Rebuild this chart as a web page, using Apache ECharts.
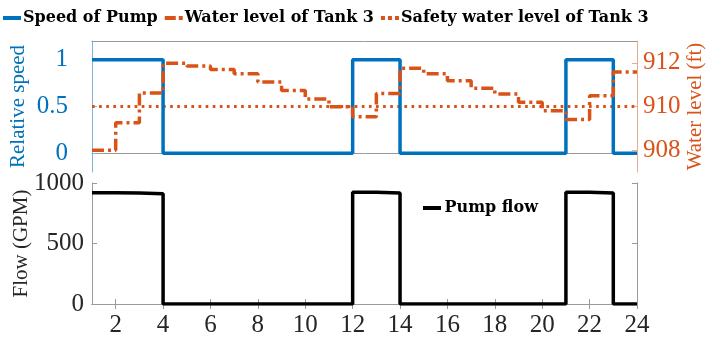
<!DOCTYPE html>
<html>
<head>
<meta charset="utf-8">
<script src="https://cdn.jsdelivr.net/npm/echarts@6/dist/echarts.min.js"></script>
<style>
  html, body { margin: 0; padding: 0; background: #fff; }
  #chart { width: 706px; height: 353px; }
</style>
</head>
<body>
<div id="chart"></div>
<script>
// hourly data, one value per hour interval [h, h+1]
var hours = [1,2,3,4,5,6,7,8,9,10,11,12,13,14,15,16,17,18,19,20,21,22,23];
var endHour = 24;
var pumpSpeed = [1,1,1,0,0,0,0,0,0,0,0,1,1,0,0,0,0,0,0,0,1,1,0];
var tankLevel = [908.0,909.26,910.62,911.98,911.85,911.69,911.5,911.12,910.73,910.34,909.99,909.53,
                 910.6,911.75,911.5,911.18,910.84,910.57,910.2,909.81,909.41,910.49,911.58];
var safetyLevel = 910;
var pumpFlow = [920,918,912,0,0,0,0,0,0,0,0,923,917,0,0,0,0,0,0,0,923,917,0];

var xTicks = [2,4,6,8,10,12,14,16,18,20,22,24];
var speedTicks = [0, 0.5, 1];
var levelTicks = [908, 910, 912];

var BLUE = '#0072BD', ORANGE = '#D95319', FONT = 'Liberation Serif', LEGFONT = 'DejaVu Serif';

// step series: add the closing point at hour 24
function steps(vals) {
    var out = [];
    for (var i = 0; i < hours.length; i++) out.push([hours[i], vals[i]]);
    out.push([endHour, vals[vals.length - 1]]);
    return out;
}

var myChart = echarts.init(document.getElementById('chart'));

var frame = {lineStyle: {color: '#9a9a9a', width: 1}};
var legendText = {fontFamily: LEGFONT, fontWeight: 'bold', fontSize: 16, color: '#000', padding: [0, 0, 0, -3]};
// legend glyphs drawn like the line styles
var iconSolid = 'path://M0,0h18v4h-18z';
var iconDashDot = 'path://M0,0h11v4h-11z M14,0h4v4h-4z';
var iconDot = 'path://M0,0h4v4h-4z M7,0h4v4h-4z M14,0h4v4h-4z';

var option = {
    animation: false,
    legend: [
        {
            data: [
                {name: 'Speed of Pump', icon: iconSolid},
                {name: 'Water level of Tank 3', icon: iconDashDot},
                {name: 'Safety water level of Tank 3', icon: iconDot}
            ],
            left: 3, top: 10, padding: 0,
            itemWidth: 18, itemHeight: 4, itemGap: 7,
            textStyle: legendText
        },
        {
            data: [{name: 'Pump flow', icon: iconSolid}],
            left: 423, top: 200, padding: 0,
            itemWidth: 21, itemHeight: 4,
            textStyle: legendText
        }
    ],
    grid: [
        {left: 92, right: 69, top: 41, height: 131, outerBoundsMode: 'none'},
        {left: 92, right: 69, top: 183, height: 121, outerBoundsMode: 'none'}
    ],
    xAxis: [
        {gridIndex: 0, type: 'value', min: 1, max: 24, position: 'bottom',
         axisLine: frame, axisTick: {show: false}, axisLabel: {show: false}, splitLine: {show: false}},
        {gridIndex: 0, type: 'value', min: 1, max: 24, position: 'top',
         axisLine: frame, axisTick: {show: false}, axisLabel: {show: false}, splitLine: {show: false}},
        {gridIndex: 1, type: 'value', min: 1, max: 24, position: 'bottom',
         axisLine: frame,
         axisTick: {inside: true, length: 5, customValues: xTicks, lineStyle: {color: '#9a9a9a'}},
         axisLabel: {customValues: xTicks, margin: 9, fontFamily: FONT, fontSize: 25, color: '#262626'},
         splitLine: {show: false}},
        {gridIndex: 1, type: 'value', min: 1, max: 24, position: 'top',
         axisLine: frame,
         axisTick: {inside: true, length: 5, customValues: xTicks, lineStyle: {color: '#9a9a9a'}},
         axisLabel: {show: false}, splitLine: {show: false}}
    ],
    yAxis: [
        {gridIndex: 0, type: 'value', min: -0.2, max: 1.2, position: 'left',
         name: 'Relative speed', nameLocation: 'middle', nameGap: 63, nameRotate: 90, nameMoveOverlap: false,
         nameTextStyle: {fontFamily: FONT, fontSize: 21, color: BLUE},
         axisLine: {show: true, lineStyle: {color: '#7fb3dc', width: 1}},
         axisTick: {inside: true, length: 5, customValues: speedTicks, lineStyle: {color: '#7fb3dc'}},
         axisLabel: {customValues: speedTicks, margin: 24, fontFamily: FONT, fontSize: 25, color: BLUE},
         splitLine: {show: false}},
        {gridIndex: 0, type: 'value', min: 907, max: 913, position: 'right',
         name: 'Water level (ft)', nameLocation: 'middle', nameGap: 48, nameRotate: 90, nameMoveOverlap: false,
         nameTextStyle: {fontFamily: FONT, fontSize: 21, color: ORANGE},
         axisLine: {show: true, lineStyle: {color: '#ebab8c', width: 1}},
         axisTick: {inside: true, length: 5, customValues: levelTicks, lineStyle: {color: '#ebab8c'}},
         axisLabel: {customValues: levelTicks, margin: 6, fontFamily: FONT, fontSize: 25, color: ORANGE},
         splitLine: {show: false}},
        {gridIndex: 1, type: 'value', min: 0, max: 1000, interval: 500, position: 'left',
         name: 'Flow (GPM)', nameLocation: 'middle', nameGap: 60, nameRotate: 90, nameMoveOverlap: false,
         nameTextStyle: {fontFamily: FONT, fontSize: 21, color: '#262626'},
         axisLine: {show: true, lineStyle: {color: '#9a9a9a', width: 1}},
         axisTick: {inside: true, length: 5, lineStyle: {color: '#9a9a9a'}},
         axisLabel: {margin: 8, fontFamily: FONT, fontSize: 25, color: '#262626',
                     formatter: function (v) { return String(v); }},
         splitLine: {show: false}},
        {gridIndex: 1, type: 'value', min: 0, max: 1000, interval: 500, position: 'right',
         axisLine: {show: true, lineStyle: {color: '#9a9a9a', width: 1}},
         axisTick: {inside: true, length: 5, lineStyle: {color: '#9a9a9a'}},
         axisLabel: {show: false}, splitLine: {show: false}}
    ],
    series: [
        {
            name: 'Speed of Pump', type: 'line', step: 'end',
            xAxisIndex: 0, yAxisIndex: 0, symbol: 'none', z: 3,
            lineStyle: {color: BLUE, width: 3.5},
            itemStyle: {color: BLUE},
            data: steps(pumpSpeed)
        },
        {
            name: 'Water level of Tank 3', type: 'line', step: 'end',
            xAxisIndex: 0, yAxisIndex: 1, symbol: 'none', z: 4,
            lineStyle: {color: ORANGE, width: 3.5, type: [12, 4, 3, 4], cap: 'butt'},
            itemStyle: {color: ORANGE},
            data: steps(tankLevel)
        },
        {
            name: 'Safety water level of Tank 3', type: 'line',
            xAxisIndex: 0, yAxisIndex: 1, symbol: 'none', z: 2,
            lineStyle: {color: ORANGE, width: 3, type: [2.7, 4.4], cap: 'butt'},
            itemStyle: {color: ORANGE},
            data: [[hours[0], safetyLevel], [endHour, safetyLevel]]
        },
        {
            name: 'Pump flow', type: 'line', step: 'end',
            xAxisIndex: 2, yAxisIndex: 2, symbol: 'none',
            lineStyle: {color: '#000', width: 3.5},
            itemStyle: {color: '#000'},
            data: steps(pumpFlow)
        }
    ]
};

myChart.setOption(option);
</script>
</body>
</html>
